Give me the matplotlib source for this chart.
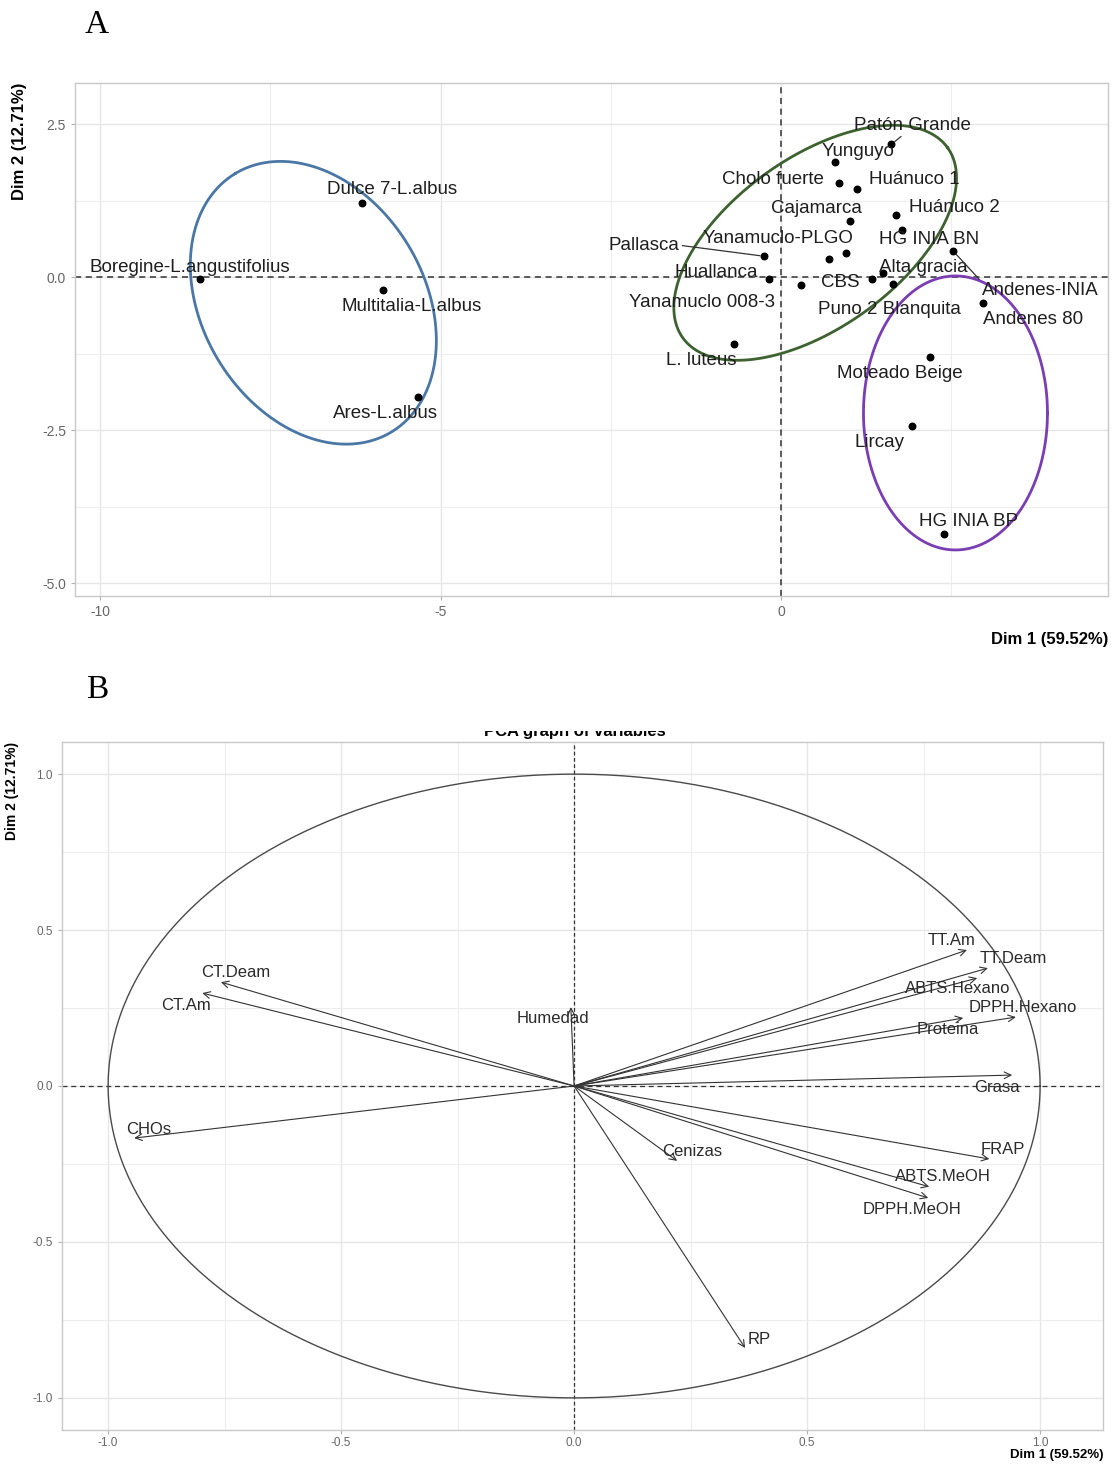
import numpy as np
import matplotlib
matplotlib.use("Agg")
import matplotlib.pyplot as plt
from matplotlib.transforms import Bbox, TransformedBbox
from matplotlib.ticker import MultipleLocator

plt.rcParams['font.family'] = ['Liberation Sans', 'DejaVu Sans']

# ---- Panel A: individuals (PCA scores) ----
ind_names = ["Boregine-L.angustifolius", "Dulce 7-L.albus", "Multitalia-L.albus", "Ares-L.albus",
             "Patón Grande", "Yunguyo", "Cholo fuerte", "Huánuco 1", "Cajamarca", "Huánuco 2",
             "HG INIA BN", "Pallasca", "Yanamuclo-PLGO", "", "Huallanca", "Yanamuclo 008-3",
             "CBS", "Alta gracia", "Puno 2 Blanquita", "Andenes-INIA", "Andenes 80",
             "L. luteus", "Moteado Beige", "Lircay", "HG INIA BP"]
dim1 = [-8.53, -6.15, -5.84, -5.33,
        1.62, 0.79, 0.85, 1.12, 1.01, 1.69,
        1.78, -0.25, 0.70, 0.95, -0.18, 0.29,
        1.34, 1.50, 1.64, 2.53, 2.97,
        -0.69, 2.19, 1.92, 2.39]
dim2 = [-0.03, 1.21, -0.21, -1.96,
        2.17, 1.88, 1.54, 1.44, 0.92, 1.01,
        0.77, 0.34, 0.29, 0.39, -0.03, -0.13,
        -0.03, 0.07, -0.11, 0.42, -0.42,
        -1.09, -1.31, -2.43, -4.20]

# label offsets in pixels (x right, y up); leader lines with the point on the label they attach to
label_offsets = {
    "Boregine-L.angustifolius": (-10, 11), "Dulce 7-L.albus": (30, 13),
    "Multitalia-L.albus": (28, -17), "Ares-L.albus": (-33, -16),
    "Patón Grande": (21, 19), "Yunguyo": (23, 10), "Cholo fuerte": (-66, 3),
    "Huánuco 1": (57, 9), "Cajamarca": (-33, 12), "Huánuco 2": (58, 8),
    "HG INIA BN": (27, -10), "Pallasca": (-120, 11), "Yanamuclo-PLGO": (-51, 21),
    "Huallanca": (-53, 6), "Yanamuclo 008-3": (-99, -17), "CBS": (-32, -4),
    "Alta gracia": (40, 5), "Puno 2 Blanquita": (-3, -26), "Andenes-INIA": (87, -39),
    "Andenes 80": (50, -17), "L. luteus": (-33, -17), "Moteado Beige": (-30, -16),
    "Lircay": (-32, -17), "HG INIA BP": (25, 13),
}
leader_lines = {"Patón Grande": (0.45, 0.1), "Pallasca": (1.0, 0.5), "Andenes-INIA": (0.03, 0.75)}

# hand-drawn group ellipses: centre (data), radii (px), angle (deg), colour
ell_centers = [(-6.87, -0.42), (0.50, 0.56), (2.56, -2.22)]
ell_radii = [(151, 111), (163, 85), (92, 137)]
ell_angles = [121.2, 35.7, 0.0]
ell_colors = ["#4a77a5", "#3d6230", "#7a3db3"]

# ---- Panel B: variables (correlation circle) ----
var_names = ["TT.Am", "TT.Deam", "ABTS.Hexano", "DPPH.Hexano", "Proteina", "Grasa",
             "FRAP", "ABTS.MeOH", "DPPH.MeOH", "Cenizas", "RP", "Humedad",
             "CT.Deam", "CT.Am", "CHOs"]
var_dim1 = [0.843, 0.888, 0.865, 0.948, 0.835, 0.940,
            0.891, 0.762, 0.760, 0.221, 0.367, -0.007,
            -0.758, -0.798, -0.944]
var_dim2 = [0.436, 0.378, 0.346, 0.221, 0.218, 0.035,
            -0.234, -0.323, -0.359, -0.240, -0.840, 0.253,
            0.333, 0.298, -0.167]
var_offsets = {
    "TT.Am": (-15, 10), "TT.Deam": (25, 10), "ABTS.Hexano": (-19, -10),
    "DPPH.Hexano": (7, 10), "Proteina": (-15, -11), "Grasa": (-15, -12),
    "FRAP": (14, 9), "ABTS.MeOH": (14, 10), "DPPH.MeOH": (-16, -12),
    "Cenizas": (15, 9), "RP": (14, 8), "Humedad": (-18, -11),
    "CT.Deam": (15, 10), "CT.Am": (-16, -12), "CHOs": (14, 9),
}

W, H = 1113, 1464
fig = plt.figure(figsize=(W / 100, H / 100), dpi=100)

def style_panel(ax, tick_size):
    for s in ax.spines.values():
        s.set_color("#c8c8c8")
        s.set_linewidth(1.0)
    ax.grid(True, which="major", color="#e6e6e6", lw=1.0)
    ax.grid(True, which="minor", color="#ededed", lw=0.8)
    ax.set_axisbelow(True)
    ax.tick_params(which="major", length=3, width=0.8, color="#b0b0b0",
                   labelsize=tick_size, labelcolor="#666666")
    ax.tick_params(which="minor", length=0)

def draw_ellipse(ax, center, radii, angle, color):
    t = np.linspace(0, 2 * np.pi, 300)
    a = np.deg2rad(angle)
    rx, ry = radii
    px = rx * np.cos(t) * np.cos(a) - ry * np.sin(t) * np.sin(a)
    py = rx * np.cos(t) * np.sin(a) + ry * np.sin(t) * np.cos(a)
    c = ax.transData.transform(center)
    pts = ax.transData.inverted().transform(np.column_stack([c[0] + px, c[1] + py]))
    ax.plot(pts[:, 0], pts[:, 1], color=color, lw=2.0, zorder=4)

# ================= Panel A =================
axA = fig.add_axes([75 / W, 1 - 596 / H, (1108 - 75) / W, (596 - 83) / H])
axA.set_xlim(-10.37, 4.80)
axA.set_ylim(-5.21, 3.17)
axA.xaxis.set_major_locator(MultipleLocator(5))
axA.xaxis.set_minor_locator(MultipleLocator(2.5))
axA.yaxis.set_major_locator(MultipleLocator(2.5))
axA.yaxis.set_minor_locator(MultipleLocator(1.25))
style_panel(axA, 10)
axA.set_xticks([-10, -5, 0])
axA.set_xticklabels(["-10", "-5", "0"])
axA.set_yticks([2.5, 0.0, -2.5, -5.0])
axA.set_yticklabels(["2.5", "0.0", "-2.5", "-5.0"])
axA.axhline(0, color="#333333", ls=(0, (4, 3)), lw=1.1, zorder=2)
axA.axvline(0, color="#333333", ls=(0, (4, 3)), lw=1.1, zorder=2)

axA.scatter(dim1, dim2, s=22, color="black", zorder=5)
for name, x, y in zip(ind_names, dim1, dim2):
    if not name:
        continue
    dx, dy = label_offsets[name]
    arrow = None
    if name in leader_lines:
        arrow = dict(arrowstyle="-", color="#333333", lw=0.9, shrinkA=0, shrinkB=3,
                     relpos=leader_lines[name])
    axA.annotate(name, xy=(x, y), xytext=(dx, dy), textcoords="offset pixels",
                 ha="center", va="center", fontsize=13.5, color="#1e1e1e",
                 arrowprops=arrow, zorder=6)

for c, r, a, col in zip(ell_centers, ell_radii, ell_angles, ell_colors):
    draw_ellipse(axA, c, r, a, col)

axA.text(1.0, -0.085, "Dim 1 (59.52%)", transform=axA.transAxes, ha="right", va="center",
         fontsize=12, fontweight="bold", family=["Liberation Sans Narrow", "Liberation Sans"])
axA.text(-0.054, 1.0, "Dim 2 (12.71%)", transform=axA.transAxes, ha="center", va="top",
         rotation=90, fontsize=12, fontweight="bold",
         family=["Liberation Sans Narrow", "Liberation Sans"])

fig.text(97 / W, 1 - 25 / H, "A", ha="center", va="center", fontsize=24,
         family=["Liberation Serif", "DejaVu Serif"])
fig.text(97 / W, 1 - 690 / H, "B", ha="center", va="center", fontsize=24,
         family=["Liberation Serif", "DejaVu Serif"])

# ================= Panel B =================
axB = fig.add_axes([62 / W, 1 - 1430 / H, (1103 - 62) / W, (1430 - 742) / H])
axB.set_xlim(-1.099, 1.135)
axB.set_ylim(-1.103, 1.103)
axB.xaxis.set_major_locator(MultipleLocator(0.5))
axB.xaxis.set_minor_locator(MultipleLocator(0.25))
axB.yaxis.set_major_locator(MultipleLocator(0.5))
axB.yaxis.set_minor_locator(MultipleLocator(0.25))
style_panel(axB, 8.5)
axB.tick_params(axis="x", which="major", pad=2)
axB.set_xticks([-1.0, -0.5, 0.0, 0.5, 1.0])
axB.set_xticklabels(["-1.0", "-0.5", "0.0", "0.5", "1.0"])
axB.set_yticks([1.0, 0.5, 0.0, -0.5, -1.0])
axB.set_yticklabels(["1.0", "0.5", "0.0", "-0.5", "-1.0"])
axB.axhline(0, color="#333333", ls=(0, (4, 3)), lw=0.9, zorder=2)
axB.axvline(0, color="#333333", ls=(0, (3, 2)), lw=0.9, zorder=2)

theta = np.linspace(0, 2 * np.pi, 400)
axB.plot(np.cos(theta), np.sin(theta), color="#4a4a4a", lw=1.0, zorder=3)

for name, x, y in zip(var_names, var_dim1, var_dim2):
    axB.annotate("", xy=(x, y), xytext=(0, 0),
                 arrowprops=dict(arrowstyle="->", color="#333333", lw=0.8,
                                 shrinkA=0, shrinkB=0, mutation_scale=12), zorder=4)
    dx, dy = var_offsets[name]
    axB.annotate(name, xy=(x, y), xytext=(dx, dy), textcoords="offset pixels",
                 ha="center", va="center", fontsize=12, color="#2a2a2a", zorder=5)

axB.text(1.0, -0.037, "Dim 1 (59.52%)", transform=axB.transAxes, ha="right", va="center",
         fontsize=9.5, fontweight="bold", family=["Liberation Sans Narrow", "Liberation Sans"])
axB.text(-0.048, 1.0, "Dim 2 (12.71%)", transform=axB.transAxes, ha="center", va="top",
         rotation=90, fontsize=10, fontweight="bold",
         family=["Liberation Sans Narrow", "Liberation Sans"])

# title partly hidden, as in the figure
title = fig.text(575 / W, 1 - 736 / H, "PCA graph of variables", ha="center",
                 va="baseline", fontsize=12, fontweight="bold")
title.set_clip_box(TransformedBbox(Bbox([[0, 0], [1, 1 - 731 / H]]), fig.transFigure))
title.set_clip_on(True)

fig.savefig("out.png", dpi=100, facecolor="white")
